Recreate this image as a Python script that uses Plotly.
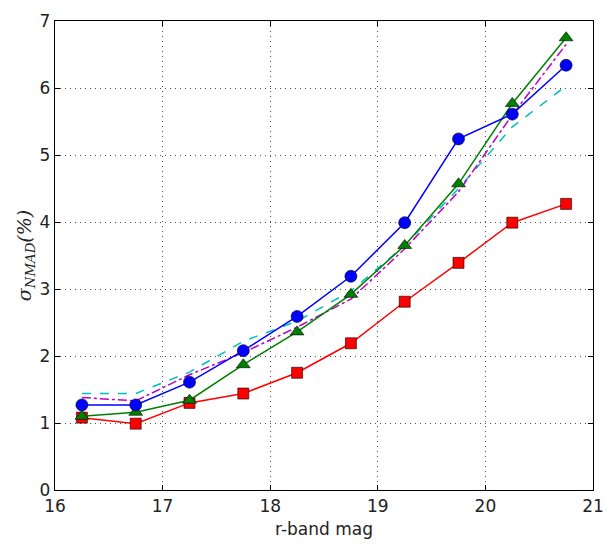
import plotly.graph_objects as go

mag = [16.25, 16.75, 17.25, 17.75, 18.25, 18.75, 19.25, 19.75, 20.25, 20.75]
blue_circ = [1.27, 1.27, 1.61, 2.08, 2.59, 3.19, 3.99, 5.24, 5.61, 6.34]
green_tri = [1.10, 1.16, 1.34, 1.87, 2.36, 2.92, 3.65, 4.57, 5.77, 6.75]
red_sq = [1.08, 0.99, 1.30, 1.44, 1.75, 2.19, 2.81, 3.39, 3.99, 4.27]
cyan_dash = [1.44, 1.44, 1.76, 2.22, 2.52, 2.97, 3.65, 4.50, 5.42, 6.03]
magenta_dd = [1.38, 1.33, 1.72, 2.05, 2.43, 2.85, 3.60, 4.45, 5.60, 6.65]

fig = go.Figure()
fig.add_trace(go.Scatter(x=mag, y=cyan_dash, mode="lines",
                         line=dict(color="#00bfbf", width=1.5, dash="dash")))
fig.add_trace(go.Scatter(x=mag, y=magenta_dd, mode="lines",
                         line=dict(color="#bf00bf", width=1.5, dash="dashdot")))
fig.add_trace(go.Scatter(x=mag, y=red_sq, mode="lines+markers",
                         line=dict(color="#ff0000", width=1.5),
                         marker=dict(symbol="square", size=11, color="#ff0000",
                                     line=dict(color="black", width=0.6))))
fig.add_trace(go.Scatter(x=mag, y=green_tri, mode="lines+markers",
                         line=dict(color="#008000", width=1.5),
                         marker=dict(symbol="triangle-up", size=12, color="#008000",
                                     line=dict(color="black", width=0.6))))
fig.add_trace(go.Scatter(x=mag, y=blue_circ, mode="lines+markers",
                         line=dict(color="#0000ff", width=1.5),
                         marker=dict(symbol="circle", size=12, color="#0000ff",
                                     line=dict(color="black", width=0.6))))

axis_common = dict(showline=True, linecolor="black", linewidth=1.3, mirror="ticks",
                   ticks="inside", ticklen=5, tickcolor="black",
                   showgrid=True, gridcolor="rgba(0,0,0,0.7)", griddash="1px,4px", gridwidth=1,
                   zeroline=False, tickfont=dict(family="DejaVu Sans", size=17, color="#222"))

fig.update_layout(
    width=615, height=548,
    margin=dict(l=55, r=11, t=15, b=58),
    paper_bgcolor="white", plot_bgcolor="white",
    showlegend=False,
    xaxis=dict(range=[16, 21], dtick=1,
               title=dict(text="r-band mag", font=dict(family="DejaVu Sans", size=17, color="#222"),
                          standoff=8), **axis_common),
    yaxis=dict(range=[0, 7], dtick=1,
               title=dict(text="<i>σ<sub>NMAD</sub>(%)</i>",
                          font=dict(family="DejaVu Serif", size=19, color="#222"), standoff=2),
               **axis_common),
)

fig.write_html("out.html")
